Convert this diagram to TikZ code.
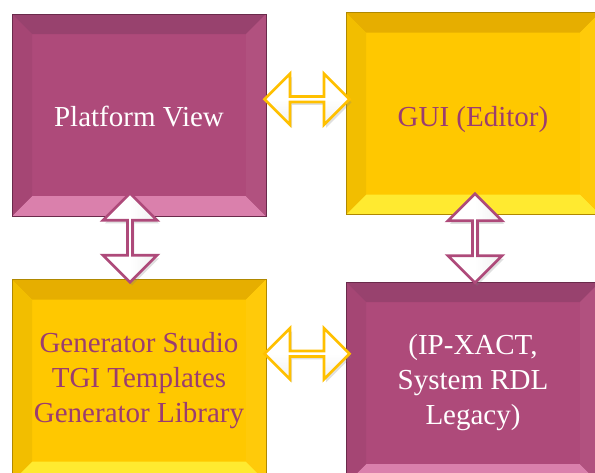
\documentclass[tikz,border=0pt]{standalone}
\usepackage{fontspec}
\setmainfont{Liberation Serif}
\usetikzlibrary{calc,shapes.arrows,shadows}
\definecolor{plum}{HTML}{AE4A7A}
\definecolor{plumdark}{HTML}{98426E}
\definecolor{plumlight}{HTML}{DA80AC}
\definecolor{plumedge}{HTML}{6A2A4B}
\definecolor{gold}{HTML}{FFC800}
\definecolor{golddark}{HTML}{E6AE00}
\definecolor{goldlight}{HTML}{FFEA30}
\definecolor{goldedge}{HTML}{B08800}
\definecolor{plumtext}{HTML}{9B3D70}
\definecolor{arrgold}{HTML}{FFC000}
\tikzset{
  bevelbox/.style n args={4}{
    fill=#1, draw=#4, line width=0.8pt, minimum width=254pt, minimum height=202pt,
    inner sep=0pt, align=center, font=\fontsize{29}{35}\selectfont,
    path picture={
      \coordinate (nw) at (path picture bounding box.north west);
      \coordinate (ne) at (path picture bounding box.north east);
      \coordinate (sw) at (path picture bounding box.south west);
      \coordinate (se) at (path picture bounding box.south east);
      \fill[#2] (nw) -- (ne) -- ($(ne)+(-20,20)$) -- ($(nw)+(20,20)$) -- cycle;
      \fill[#3] (sw) -- (se) -- ($(se)+(-20,-20)$) -- ($(sw)+(20,-20)$) -- cycle;
      \fill[#1!95!black] (nw) -- ($(nw)+(20,20)$) -- ($(sw)+(20,-20)$) -- (sw) -- cycle;
      \fill[#1!96!white] (ne) -- ($(ne)+(-20,20)$) -- ($(se)+(-20,-20)$) -- (se) -- cycle;
    }},
  plumbox/.style={bevelbox={plum}{plumdark}{plumlight}{plumedge}, text=white},
  goldbox/.style={bevelbox={gold}{golddark}{goldlight}{goldedge}, text=plumtext},
  harrow/.style={double arrow, draw=arrgold, line width=2.8pt, inner sep=0pt,
    top color=white, bottom color=gray!12, middle color=white,
    minimum height=85pt, minimum width=51pt, double arrow head extend=12pt,
    drop shadow={opacity=0.25, shadow xshift=2pt, shadow yshift=-3pt}},
  varrow/.style={double arrow, draw=plum, line width=2.8pt, inner sep=0pt,
    left color=white, right color=gray!12, middle color=white, rotate=90,
    minimum height=89pt, minimum width=54pt, double arrow head extend=14pt,
    drop shadow={opacity=0.25, shadow xshift=2pt, shadow yshift=-3pt}},
}
\begin{document}
\begin{tikzpicture}[x=1pt,y=-1pt]
\useasboundingbox (0,0) rectangle (595,472);
\clip (0,0) rectangle (595,472);
\fill[white] (0,0) rectangle (595,472);
\node[plumbox] (pv) at (139,115) {\raisebox{-11.5pt}[0pt][0pt]{Platform View}};
\node[goldbox] (gui) at (473,113.5) {\raisebox{-13pt}[0pt][0pt]{GUI (Editor)}};
\node[goldbox] (gen) at (139,380.5) {Generator Studio\\TGI Templates\\Generator Library};
\node[plumbox] (ip) at (473,383) {(IP-XACT,\\System RDL\\Legacy)};
\node[harrow] (a1) at ($(pv.east)!0.5!(gui.west)+(1,-15)$) {};
\node[harrow] (a2) at ($(gen.east)!0.5!(ip.west)+(1,-28)$) {};
\node[varrow] (a3) at ($(pv.south)!0.5!(gen.north)+(-9,-10)$) {};
\node[varrow] (a4) at ($(gui.south)!0.5!(ip.north)+(2,-10)$) {};
\end{tikzpicture}
\end{document}
